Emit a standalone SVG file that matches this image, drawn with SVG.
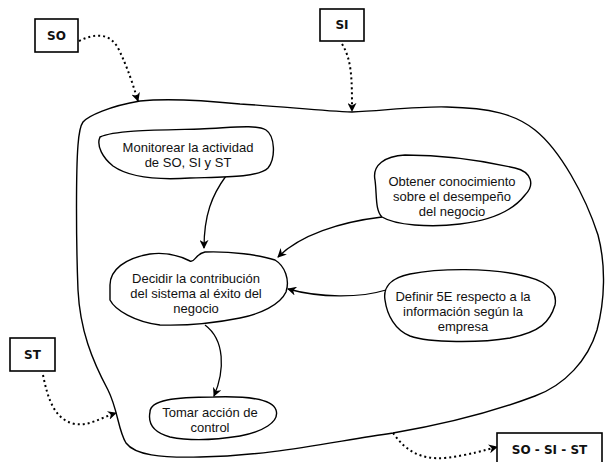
<svg xmlns="http://www.w3.org/2000/svg" width="607" height="462" viewBox="0 0 607 462">
<style>
.blob{fill:#fff;stroke:#000;stroke-width:1.4;stroke-linejoin:round}
.box{fill:#fff;stroke:#000;stroke-width:1.6}
.lbl{font-family:"Liberation Sans",Arial,sans-serif;font-size:13px;fill:#111;text-anchor:middle}
.blbl{font-family:"DejaVu Sans",Verdana,sans-serif;font-weight:bold;font-size:12px;fill:#111;text-anchor:middle}
.arr{fill:none;stroke:#000;stroke-width:1.3;marker-end:url(#ah)}
.dot{fill:none;stroke:#000;stroke-width:2;stroke-dasharray:2 3;marker-end:url(#ah)}
</style>
<defs>
<marker id="ah" viewBox="0 0 10 10" refX="9" refY="5" markerWidth="9" markerHeight="9" markerUnits="userSpaceOnUse" orient="auto">
<path d="M0,0 L10,5 L0,10 L3,5 z" fill="#000"/>
</marker>
</defs>
<g id="boundary">
<path class="blob" style="fill:none" d="M 83,122 C 88,116 110,106 140,101 C 170,98 210,101 240,104 C 280,106 320,111 352,112 C 380,111 420,106 447,107 C 490,108 515,114 535,130 C 560,150 585,195 598,235 C 606,265 605,300 597,330 C 588,360 565,385 535,396 C 490,413 440,425 393,433 C 330,442 270,456 200,457 C 160,458 135,455 126,443 C 118,430 118,410 108,390 C 92,360 80,330 78,290 C 76,240 76,170 78,145 C 79,132 80,126 83,122 Z"/>
</g>
<g id="connectors">
<path class="arr" d="M 226,176 C 212,195 204,215 204,248"/>
<path class="arr" d="M 382,217 C 340,222 300,235 278,257"/>
<path class="arr" d="M 386,290 C 360,298 320,298 288,289"/>
<path class="arr" d="M 205,325 C 225,340 225,370 214,396"/>
<path class="dot" d="M 79,41 C 95,33 110,33 118,48 C 128,68 133,85 138,101"/>
<path class="dot" d="M 342,44 C 352,60 352,80 352,111"/>
<path class="dot" d="M 43,375 C 48,400 55,420 75,424 C 90,426 100,418 116,413"/>
<path class="dot" d="M 393,433 C 405,450 420,460 445,458 C 470,455 485,450 497,447"/>
</g>
<g id="so">
<rect class="box" x="35" y="19" width="43" height="33"/>
<text class="blbl" x="56.5" y="40">SO</text>
</g>
<g id="si">
<rect class="box" x="320" y="9" width="44" height="32"/>
<text class="blbl" x="342" y="29">SI</text>
</g>
<g id="st">
<rect class="box" x="10" y="338" width="45" height="33"/>
<text class="blbl" x="32.5" y="359">ST</text>
</g>
<g id="so-si-st">
<rect class="box" x="497" y="433" width="105" height="40"/>
<text class="blbl" x="549.5" y="454">SO - SI - ST</text>
</g>
<g id="monitorear">
<path class="blob" d="M 100,137 C 115,130 160,130 200,129 C 230,128 255,124 266,130 C 275,136 276,158 268,168 C 258,178 220,177 190,178 C 160,180 130,178 113,166 C 103,158 96,146 100,137 Z"/>
<text class="lbl" x="188" y="152">Monitorear la actividad</text>
<text class="lbl" x="188" y="167">de SO, SI y ST</text>
</g>
<g id="decidir">
<path class="blob" d="M 110,285 C 110,270 125,258 150,254 C 165,252 180,256 190,261 C 195,263 195,254 205,252 C 230,251 260,255 275,260 C 285,266 290,280 286,292 C 280,305 260,314 240,318 C 215,323 190,326 160,325 C 135,322 115,310 110,300 Z"/>
<text class="lbl" x="196" y="283">Decidir la contribución</text>
<text class="lbl" x="196" y="298">del sistema al éxito del</text>
<text class="lbl" x="196" y="313">negocio</text>
</g>
<g id="obtener">
<path class="blob" d="M 375,180 C 372,165 385,156 405,155 C 440,155 480,160 515,168 C 532,172 535,185 525,195 C 515,208 495,220 460,224 C 430,228 395,225 382,217 C 375,210 377,195 375,180 Z"/>
<text class="lbl" x="452" y="186">Obtener conocimiento</text>
<text class="lbl" x="452" y="201">sobre el desempeño</text>
<text class="lbl" x="452" y="216">del negocio</text>
</g>
<g id="definir">
<path class="blob" d="M 385,300 C 383,288 390,278 410,274 C 440,268 490,268 520,275 C 545,280 558,290 555,305 C 550,322 540,332 510,338 C 480,343 430,343 410,336 C 395,330 387,315 385,300 Z"/>
<text class="lbl" x="463" y="301">Definir 5E respecto a la</text>
<text class="lbl" x="463" y="316">información según la</text>
<text class="lbl" x="463" y="331">empresa</text>
</g>
<g id="tomar">
<path class="blob" d="M 150,412 C 150,400 175,397 213,397 C 245,396 272,398 276,410 C 280,422 262,432 240,436 C 215,440 190,441 170,437 C 152,432 148,422 150,412 Z"/>
<text class="lbl" x="210" y="417">Tomar acción de</text>
<text class="lbl" x="210" y="432">control</text>
</g>
</svg>
